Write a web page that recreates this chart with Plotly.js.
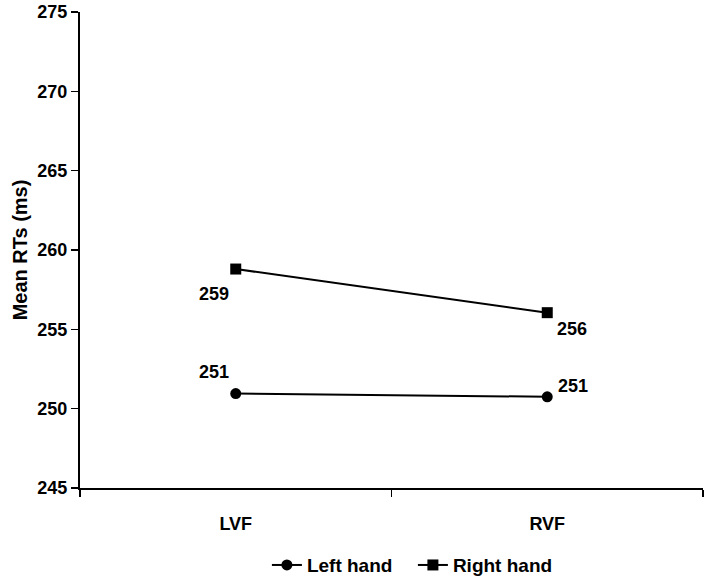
<!DOCTYPE html>
<html>
<head>
<meta charset="utf-8">
<script src="https://cdn.plot.ly/plotly-3.0.1.min.js"></script>
<style>html,body{margin:0;padding:0;background:#fff;}#chart{width:708px;height:580px;}</style>
</head>
<body>
<div id="chart"></div>
<script>
const categories = ["LVF", "RVF"];
const leftHand = [250.95, 250.75];
const rightHand = [258.8, 256.05];
const leftLabels = ["251", "251"];
const rightLabels = ["259", "256"];
const yTicks = [245, 250, 255, 260, 265, 270, 275];

const FONT = "Liberation Sans, Arial, sans-serif";

const traces = [
  {
    x: categories, y: leftHand, name: "Left hand", type: "scatter", mode: "lines+markers",
    line: {color: "#000", width: 2}, marker: {symbol: "circle", size: 11, color: "#000"}
  },
  {
    x: categories, y: rightHand, name: "Right hand", type: "scatter", mode: "lines+markers",
    line: {color: "#000", width: 2}, marker: {symbol: "square", size: 11, color: "#000"}
  }
];

const labelFont = {family: FONT, size: 18, color: "#000", weight: "bold"};
const annotations = [
  {x: categories[0], y: rightHand[0], text: rightLabels[0], xshift: -22, yshift: -25},
  {x: categories[0], y: leftHand[0], text: leftLabels[0], xshift: -22, yshift: 22},
  {x: categories[1], y: rightHand[1], text: rightLabels[1], xshift: 25, yshift: -16},
  {x: categories[1], y: leftHand[1], text: leftLabels[1], xshift: 26, yshift: 11}
].map(a => Object.assign({xref: "x", yref: "y", showarrow: false, font: labelFont}, a));

const layout = {
  width: 708, height: 580,
  margin: {l: 80, r: 5, t: 12, b: 92, autoexpand: false},
  paper_bgcolor: "#fff", plot_bgcolor: "#fff",
  showlegend: true,
  legend: {
    orientation: "h", x: 0.3, xanchor: "left", y: -0.162, yanchor: "middle",
    font: {family: FONT, size: 19, color: "#000", weight: "bold"},
    itemwidth: 30, entrywidth: 101, entrywidthmode: "pixels"
  },
  xaxis: {
    type: "category", range: [-0.5, 1.5],
    showline: true, linecolor: "#000", linewidth: 2,
    ticks: "outside", tickson: "boundaries", ticklen: 7, tickwidth: 1.5, tickcolor: "#000",
    showgrid: false, zeroline: false,
    tickfont: {family: FONT, size: 18, color: "#000", weight: "bold"},
    ticklabelstandoff: 18
  },
  yaxis: {
    range: [245, 275], tickvals: yTicks,
    showline: true, linecolor: "#000", linewidth: 2,
    ticks: "outside", ticklen: 7, tickwidth: 1.5, tickcolor: "#000",
    showgrid: false, zeroline: false,
    tickfont: {family: FONT, size: 18, color: "#000", weight: "bold"},
    title: {text: "Mean RTs (ms)", font: {family: FONT, size: 20, color: "#000", weight: "bold"}, standoff: 4}
  },
  annotations: annotations
};

Plotly.newPlot("chart", traces, layout, {displayModeBar: false, staticPlot: true});
</script>
</body>
</html>
